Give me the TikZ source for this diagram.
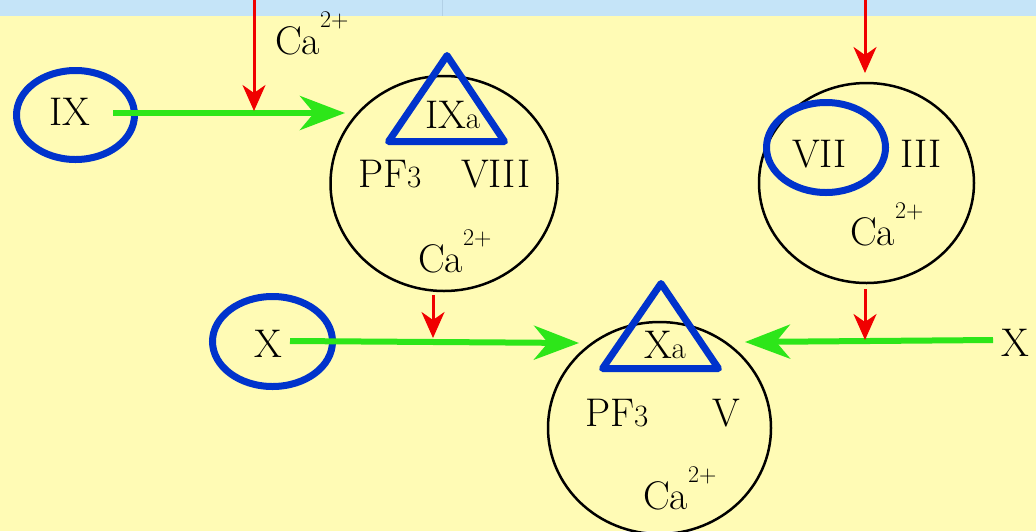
\documentclass[tikz,border=0pt]{standalone}
\usepackage{fontspec}
\usetikzlibrary{arrows.meta,shapes.geometric}
\definecolor{bgyellow}{RGB}{255,251,181}
\definecolor{bandblue}{RGB}{197,228,248}
\definecolor{bandline}{RGB}{178,208,230}
\definecolor{mkblue}{RGB}{0,51,204}
\definecolor{flowgreen}{RGB}{45,230,25}
\definecolor{flowred}{RGB}{240,0,0}
\newcommand{\ionCa}{Ca\raisebox{27pt}{\fontsize{24}{24}\selectfont 2+}}
\newcommand{\smallsub}[1]{{\fontsize{31}{31}\selectfont #1}}
\begin{document}
\begin{tikzpicture}[x=1pt,y=-1pt,
  txt/.style={font=\fontsize{40}{44}\selectfont, inner sep=0pt, outer sep=0pt, anchor=base west},
  blueoval/.style={draw=mkblue, line width=7pt, ellipse, inner sep=0pt, outer sep=0pt},
  cell/.style={draw=black, line width=2.5pt, ellipse, inner sep=0pt, outer sep=0pt},
  tri/.style={draw=mkblue, line width=7pt, line join=round},
  greenflow/.style={draw=flowgreen, line width=6pt, -{Stealth[length=45pt,width=34pt,inset=14pt]}},
  redflow/.style={draw=flowred, line width=3pt, -{Stealth[length=26pt,width=23pt,inset=8pt]}}]
\useasboundingbox (0,0) rectangle (1036,531);
\fill[bgyellow] (0,0) rectangle (1036,531);
\fill[bandblue] (0,0) rectangle (1036,16);
\draw[bandline, line width=1pt] (442,0) -- (442,16);

% cells
\node[cell, minimum width=227pt, minimum height=215pt] (c1) at (444,183.5) {};
\node[cell, minimum width=215pt, minimum height=200pt] (c2) at (866.5,183) {};
\node[cell, minimum width=223pt, minimum height=212pt] (c3) at (659.5,428) {};

% blue marks
\node[blueoval, minimum width=118pt, minimum height=89pt] (eIX) at (75.5,115) {};
\node[blueoval, minimum width=120pt, minimum height=90pt] (eX) at (272.5,341.5) {};
\node[blueoval, minimum width=119pt, minimum height=90pt] (eVII) at (826,147.5) {};
\draw[tri] (447,55.5) -- (388.5,141.5) -- (504.5,141.5) -- cycle;
\draw[tri] (661,283.5) -- (602.5,368.5) -- (718.5,368.5) -- cycle;

% texts
\node[txt, anchor=base] (tIX) at (70,125) {IX};
\node[txt] (tCa0) at (275,54) {\ionCa};
\node[txt] (tIXa) at (425,128) {IX\smallsub{a}};
\node[txt] (tPF1) at (358,187) {PF\smallsub{3}};
\node[txt] (tVIII) at (461,187) {VIII};
\node[txt] (tCa1) at (418,272) {\ionCa};
\node[txt] (tVII) at (792,167) {VII};
\node[txt] (tIII) at (900,167) {III};
\node[txt] (tCa2) at (850,245) {\ionCa};
\node[txt, anchor=base] (tX) at (268,357) {X};
\node[txt] (tXa) at (644,358) {X\smallsub{a}};
\node[txt] (tPF3) at (585,426) {PF\smallsub{3}};
\node[txt] (tV) at (712,426) {V};
\node[txt] (tCa3) at (643,509) {\ionCa};
\node[txt] (tXr) at (1001,356) {X};

% connector end points
\coordinate (g1s) at (113,113);
\coordinate (g1e) at (345,113);
\coordinate (g2s) at (290,341);
\coordinate (g2e) at (579,343);
\coordinate (g3s) at (993,340);
\coordinate (g3e) at (745,342);
\coordinate (r1s) at (254,0);
\coordinate (r1e) at (254,111);
\coordinate (r2s) at (433,295);
\coordinate (r2e) at (433,338);
\coordinate (r3s) at (865,0);
\coordinate (r3e) at (865,73);
\coordinate (r4s) at (865,289);
\coordinate (r4e) at (865,340);

\draw[greenflow] (g1s) -- (g1e);
\draw[greenflow] (g2s) -- (g2e);
\draw[greenflow] (g3s) -- (g3e);
\draw[redflow] (r1s) -- (r1e);
\draw[redflow] (r2s) -- (r2e);
\draw[redflow] (r3s) -- (r3e);
\draw[redflow] (r4s) -- (r4e);
\end{tikzpicture}
\end{document}
